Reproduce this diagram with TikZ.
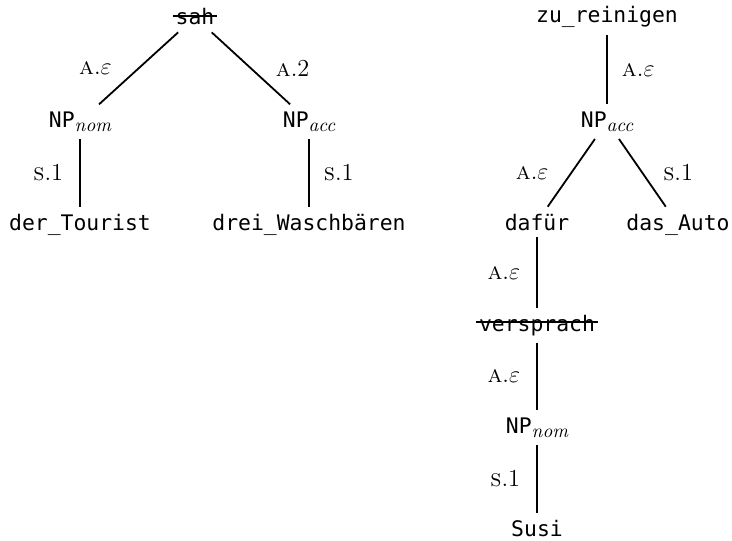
\documentclass[tikz,border=0pt]{standalone}
\usepackage{amsmath,amssymb}
\usepackage{fontspec}
\newfontfamily\wordfont{DejaVu Sans Mono}
\usetikzlibrary{positioning}
\newcommand{\la}{\textsc{a}.$\varepsilon$}
\newcommand{\ls}{\textsc{s}.1}
\newcommand{\sub}[1]{\raisebox{-0.22em}{\normalfont\fontsize{9.6}{11}\selectfont\itshape #1}}
\tikzset{
  word/.style   = {font=\wordfont\fontsize{10.7}{12}\selectfont, anchor=base},
  lbl/.style    = {font=\fontsize{12.2}{14}\selectfont, inner sep=0pt},
  branch/.style = {line width=0.9pt},
  strike/.style = {line width=0.9pt},
}

\begin{document}
\begin{tikzpicture}[x=0.5pt,y=-0.5pt]
  \useasboundingbox (0,0) rectangle (732,540);
  % left tree
  \node[word] (sah)     at (195,25)  {sah};
  \node[word] (npnom)   at (80,127)  {NP\sub{nom}};
  \node[word] (npacc)   at (309,127) {NP\sub{acc}};
  \node[word] (tourist) at (80,230)  {der\_Tourist};
  \node[word] (waschb)  at (309,230) {drei\_Waschbären};
  \draw[strike] ([shift={(2.2pt,4.6pt)}]sah.base west) -- ([shift={(-2.2pt,4.6pt)}]sah.base east);
  \draw[branch] (sah) -- node[lbl,left=13pt] {\la} (npnom);
  \draw[branch] (sah) -- node[lbl,right=12pt] {\textsc{a}.2} (npacc);
  \draw[branch] (npnom) -- node[lbl,left=8pt] {\ls} (tourist);
  \draw[branch] (npacc) -- node[lbl,right=7pt] {\ls} (waschb);
  % right tree
  \node[word] (zu)        at (607,23)  {zu\_reinigen};
  \node[word] (rnpacc)    at (607,127) {NP\sub{acc}};
  \node[word] (dafuer)    at (537,230) {dafür};
  \node[word] (auto)      at (678,230) {das\_Auto};
  \node[word] (versprach) at (537,331) {versprach};
  \node[word] (rnpnom)    at (537,433) {NP\sub{nom}};
  \node[word] (susi)      at (537,536) {Susi};
  \draw[strike] ([shift={(2.2pt,4.6pt)}]versprach.base west) -- ([shift={(-2.2pt,4.6pt)}]versprach.base east);
  \draw[branch] (zu) -- node[lbl,right=7pt] {\la} (rnpacc);
  \draw[branch] (rnpacc) -- node[lbl,left=11pt] {\la} (dafuer);
  \draw[branch] (rnpacc) -- node[lbl,right=10pt] {\ls} (auto);
  \draw[branch] (dafuer) -- node[lbl,left=8pt] {\la} (versprach);
  \draw[branch] (versprach) -- node[lbl,left=8pt] {\la} (rnpnom);
  \draw[branch] (rnpnom) -- node[lbl,left=8pt] {\ls} (susi);
\end{tikzpicture}
\end{document}
